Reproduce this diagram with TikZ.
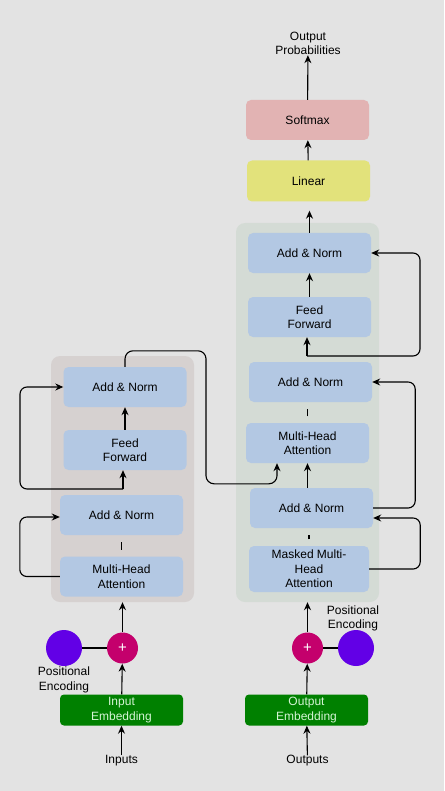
\documentclass[tikz,border=0pt]{standalone}
\usepackage{fontspec}
\setmainfont{Liberation Sans}
\usepackage{tikz}
\usetikzlibrary{arrows.meta, positioning, calc}
\definecolor{BgGrey}{HTML}{E3E3E3}
\definecolor{BoxBlue}{HTML}{B3C8E3}
\definecolor{EncGrey}{HTML}{D6D1D0}
\definecolor{DecGrey}{HTML}{D4DBD5}
\definecolor{LinYellow}{HTML}{E2E27B}
\definecolor{SoftRed}{HTML}{E2B3B3}
\definecolor{EmbGreen}{HTML}{008000}
\definecolor{EmbText}{HTML}{D5F5D5}
\definecolor{PlusPink}{HTML}{C4006C}
\definecolor{PePurple}{HTML}{6200E6}

\tikzset{
    txt/.style={font=\fontsize{12}{14.5}\selectfont, align=center, inner sep=0pt},
    layer/.style={txt, fill=BoxBlue, rounded corners=5pt, minimum width=123pt, minimum height=40pt},
    block/.style={rounded corners=9pt, inner sep=0pt},
    embed/.style={txt, fill=EmbGreen, text=EmbText, rounded corners=4pt, minimum width=123pt, minimum height=31pt},
    plus/.style={circle, fill=PlusPink, text=white, minimum size=31pt, inner sep=0pt, font=\fontsize{15}{15}\selectfont},
    posenc/.style={circle, fill=PePurple, minimum size=36pt, inner sep=0pt},
    arr/.style={-{Stealth[length=8pt,width=7pt]}, line width=1.1pt, black},
    link/.style={line width=1.1pt, black},
    stub/.style={line width=1.1pt, black, shorten <=6.5pt, shorten >=6.5pt},
}

\begin{document}
\begin{tikzpicture}[x=1pt,y=-1pt]

    % background
    \fill[BgGrey] (0,0) rectangle (444,791);
    \useasboundingbox (0,0) rectangle (444,791);

    % encoder block
    \node[block, fill=EncGrey, minimum width=143pt, minimum height=246pt] (encblock) at (122.5,479) {};
    \node[layer] (encmha) at (121.5,576.5) {Multi-Head\\Attention};
    \node[layer] (encan1) at (121.5,515) {Add \& Norm};
    \node[layer] (encff)  at (125,450) {Feed\\Forward};
    \node[layer] (encan2) at (125,387) {Add \& Norm};

    % encoder input
    \node[plus] (encadd) at (122.5,648) {+};
    \node[posenc] (encpe) at (64,648) {};
    \node[txt] (encpelabel) at (64,680) {Positional\\Encoding};
    \node[embed] (encemb) at (121.5,710) {Input\\Embedding};
    \node[txt] (inputs) at (121.5,761) {Inputs};

    % decoder block
    \node[block, fill=DecGrey, minimum width=143pt, minimum height=379pt] (decblock) at (307.5,412.5) {};
    \node[layer, minimum width=120pt, minimum height=46pt] (decmmha) at (309,569) {Masked Multi-\\Head\\Attention};
    \node[layer] (decan1) at (311.5,508) {Add \& Norm};
    \node[layer] (decmha) at (307.5,443) {Multi-Head\\Attention};
    \node[layer] (decan2) at (310.5,382) {Add \& Norm};
    \node[layer] (decff)  at (309.5,317) {Feed\\Forward};
    \node[layer] (decan3) at (309.5,253) {Add \& Norm};

    % decoder input
    \node[plus] (decadd) at (307.5,648) {+};
    \node[posenc] (decpe) at (356,648) {};
    \node[txt] (decpelabel) at (353,618.5) {Positional\\Encoding};
    \node[embed] (decemb) at (306.5,710) {Output\\Embedding};
    \node[txt] (outputs) at (307.5,761) {Outputs};

    % output head
    \node[layer, fill=LinYellow, minimum height=41pt] (linear) at (308.5,181) {Linear};
    \node[layer, fill=SoftRed] (softmax) at (307.5,120) {Softmax};
    \node[txt] (outprob) at (308,43.5) {Output\\Probabilities};

    % encoder connections
    \draw[arr] (inputs) -- (encemb);
    \draw[arr] (encemb) -- (encadd);
    \draw[link] (encpe) -- (encadd);
    \draw[arr] (encadd) -- (encadd |- encblock.south);
    \draw[stub] (encmha) -- (encmha |- encan1.south);
    \draw[arr, rounded corners=7pt] (encmha.west) -- ++(-40,0) |- ([yshift=-2pt]encan1.west);
    \coordinate (encsplit) at (123,489);
    \draw[arr] (encsplit) -- (encsplit |- encff.south);
    \draw[arr, rounded corners=7pt] (encsplit) -- ++(-103,0) |- (encan2.west);
    \draw[arr] (encff) -- (encan2);

    % encoder to decoder
    \draw[arr, rounded corners=8pt] (encan2.north) -- ++(0,-16) -- ++(81,0) -- ++(0,133)
        -| ([xshift=-30.5pt]decmha.south);

    % decoder connections
    \draw[arr] (outputs) -- (decemb);
    \draw[arr] (decemb) -- (decadd);
    \draw[link] (decpe) -- (decadd);
    \draw[arr] (decadd) -- (decadd |- decblock.south);
    \draw[stub] (decmmha) -- (decmmha |- decan1.south);
    \draw[arr, rounded corners=7pt] (decmmha.east) -- ++(51,0) |- ([yshift=-10pt]decan1.east);
    \draw[arr, rounded corners=7pt] (decan1.east) -- ++(42,0) |- (decan2.east);
    \draw[arr] (decan1.north -| decmha.south) -- (decmha.south);
    \draw[stub] (decmha) -- (decmha |- decan2.south);
    \coordinate (decsplit) at (307,356);
    \draw[arr] (decsplit) -- (decsplit |- decff.south);
    \draw[arr, rounded corners=7pt] (decsplit) -- ++(113,0) |- (decan3.east);
    \draw[arr] (decff) -- (decan3);

    % output head connections
    \draw[arr, shorten >=9pt] (decan3) -- (decan3 |- linear.south);
    \draw[arr] (linear) -- (softmax);
    \draw[arr] (softmax) -- (outprob);

\end{tikzpicture}
\end{document}
